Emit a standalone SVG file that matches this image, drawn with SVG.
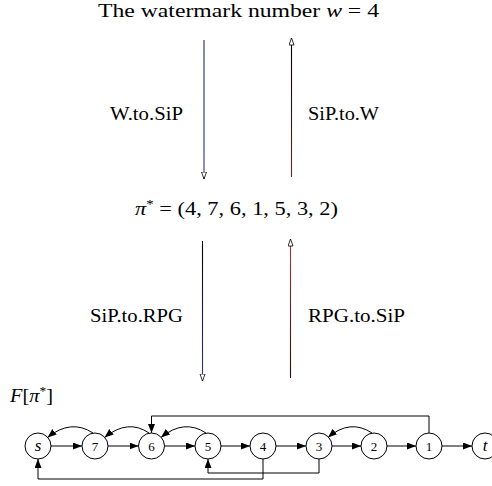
<svg xmlns="http://www.w3.org/2000/svg" width="492" height="486" viewBox="0 0 492 486">
<style>
text { font-family: "Liberation Serif", "Times New Roman", "DejaVu Serif", serif; fill: #000; }
.big { font-size: 19.5px; }
.lbl { font-size: 18.5px; }
.num { font-size: 13px; text-anchor: middle; }
.var { font-size: 17px; font-style: italic; text-anchor: middle; }
.node circle { fill: #fff; stroke: #000; stroke-width: 1; }
.edge { fill: none; stroke: #000; stroke-width: 1; marker-end: url(#fa); }
.flow { fill: none; stroke-width: 1.1; marker-end: url(#oa); }
</style>
<defs>
<marker id="fa" markerUnits="userSpaceOnUse" markerWidth="10" markerHeight="8" refX="9" refY="3.5" orient="auto">
<path d="M0,0 L9,3.5 L0,7 z" fill="#000"/>
</marker>
<marker id="oa" markerUnits="userSpaceOnUse" markerWidth="9" markerHeight="8" refX="7.5" refY="3" orient="auto">
<path d="M0.5,0.5 L7.5,3 L0.5,5.5 z" fill="#fff" stroke="#000" stroke-width="0.8"/>
</marker>
<linearGradient id="gBlue1" gradientUnits="userSpaceOnUse" x1="0" y1="40" x2="0" y2="178">
<stop offset="0" stop-color="#24246e"/><stop offset="1" stop-color="#33338a"/>
</linearGradient>
<linearGradient id="gRed1" gradientUnits="userSpaceOnUse" x1="0" y1="178" x2="0" y2="40">
<stop offset="0" stop-color="#6e2a2a"/><stop offset="0.5" stop-color="#2a1010"/><stop offset="1" stop-color="#000"/>
</linearGradient>
<linearGradient id="gBlue2" gradientUnits="userSpaceOnUse" x1="0" y1="241" x2="0" y2="380">
<stop offset="0" stop-color="#000"/><stop offset="1" stop-color="#33338a"/>
</linearGradient>
<linearGradient id="gRed2" gradientUnits="userSpaceOnUse" x1="0" y1="378" x2="0" y2="241">
<stop offset="0" stop-color="#2a0a0a"/><stop offset="1" stop-color="#9a4040"/>
</linearGradient>
</defs>

<g id="labels">
<text class="big" x="98" y="17" textLength="281" lengthAdjust="spacingAndGlyphs">The watermark number <tspan font-style="italic">w</tspan> = 4</text>
<text class="big" x="135" y="215" textLength="203" lengthAdjust="spacingAndGlyphs"><tspan font-style="italic">π</tspan><tspan dy="-7" font-size="13">*</tspan><tspan dy="7"> = (4, 7, 6, 1, 5, 3, 2)</tspan></text>
<text class="lbl" x="110" y="120" textLength="73" lengthAdjust="spacingAndGlyphs">W.to.SiP</text>
<text class="lbl" x="308" y="120" textLength="71" lengthAdjust="spacingAndGlyphs">SiP.to.W</text>
<text class="lbl" x="90" y="322" textLength="93" lengthAdjust="spacingAndGlyphs">SiP.to.RPG</text>
<text class="lbl" x="308" y="322" textLength="97" lengthAdjust="spacingAndGlyphs">RPG.to.SiP</text>
<text class="big" x="10" y="402" textLength="43" lengthAdjust="spacingAndGlyphs"><tspan font-style="italic">F</tspan>[<tspan font-style="italic">π</tspan><tspan dy="-7" font-size="13">*</tspan><tspan dy="7">]</tspan></text>
</g>

<g id="flows">
<line class="flow" x1="204" y1="40" x2="204" y2="179" stroke="url(#gBlue1)"/>
<line class="flow" x1="291.5" y1="177" x2="291.5" y2="38" stroke="url(#gRed1)"/>
<line class="flow" x1="202.5" y1="241" x2="202.5" y2="381" stroke="url(#gBlue2)"/>
<line class="flow" x1="290.5" y1="378" x2="290.5" y2="239" stroke="url(#gRed2)"/>
</g>

<g id="connectors">
<line class="edge" x1="51" y1="446" x2="82" y2="446"/>
<line class="edge" x1="108" y1="446" x2="138.5" y2="446"/>
<line class="edge" x1="164.5" y1="446" x2="195" y2="446"/>
<line class="edge" x1="221" y1="446" x2="250" y2="446"/>
<line class="edge" x1="276" y1="446" x2="306" y2="446"/>
<line class="edge" x1="332" y1="446" x2="361" y2="446"/>
<line class="edge" x1="387" y1="446" x2="416" y2="446"/>
<line class="edge" x1="442" y1="446" x2="472" y2="446"/>
<path class="edge" d="M93,433 Q71,418.5 47.5,437.5"/>
<path class="edge" d="M149,433 Q128,418.5 104.5,437.5"/>
<path class="edge" d="M206,433 Q184,418.5 161,437.5"/>
<path class="edge" d="M372,433 Q350,418.5 328,437.5"/>
<path class="edge" d="M429,433 V416 H151.5 V433"/>
<path class="edge" d="M263,459 V479 H38 V459"/>
<path class="edge" d="M319,459 V473 H208 V459"/>
</g>

<g id="node-s" class="node"><circle cx="38" cy="446" r="13"/><text class="var" x="38" y="451">s</text></g>
<g id="node-7" class="node"><circle cx="95" cy="446" r="13"/><text class="num" x="95" y="450.5">7</text></g>
<g id="node-6" class="node"><circle cx="151.5" cy="446" r="13"/><text class="num" x="151.5" y="450.5">6</text></g>
<g id="node-5" class="node"><circle cx="208" cy="446" r="13"/><text class="num" x="208" y="450.5">5</text></g>
<g id="node-4" class="node"><circle cx="263" cy="446" r="13"/><text class="num" x="263" y="450.5">4</text></g>
<g id="node-3" class="node"><circle cx="319" cy="446" r="13"/><text class="num" x="319" y="450.5">3</text></g>
<g id="node-2" class="node"><circle cx="374" cy="446" r="13"/><text class="num" x="374" y="450.5">2</text></g>
<g id="node-1" class="node"><circle cx="429" cy="446" r="13"/><text class="num" x="429" y="450.5">1</text></g>
<g id="node-t" class="node"><circle cx="485" cy="446" r="13"/><text class="var" x="485" y="451">t</text></g>
</svg>
